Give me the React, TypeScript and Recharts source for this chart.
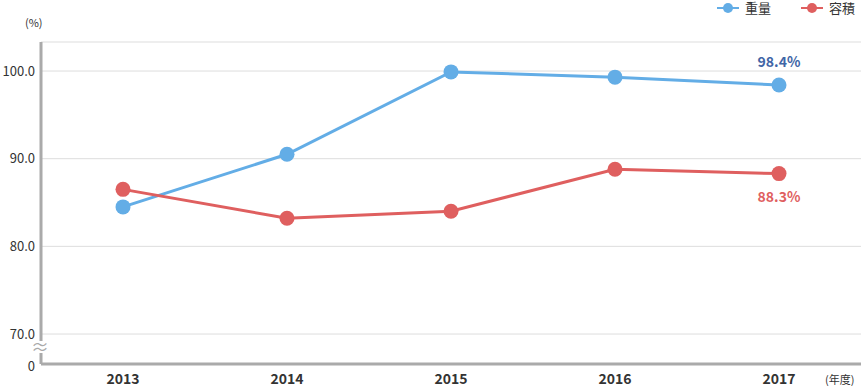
import React from 'react';
import { LineChart, Line, XAxis, YAxis, CartesianGrid, LabelList } from 'recharts';

const years = ['2013', '2014', '2015', '2016', '2017'];
const weight = [84.5, 90.5, 99.9, 99.3, 98.4];
const volume = [86.5, 83.2, 84.0, 88.8, 88.3];
const yTicks = [66.58, 70, 80, 90, 100];

const BLUE = '#63ade6';
const RED = '#df5f5f';
const AXIS = '#aaaaaa';
const FONT = '"Noto Sans CJK JP", "Noto Sans", sans-serif';

const data = years.map((y, i) => ({ year: y, weight: weight[i], volume: volume[i] }));

const YTick = (props: any) => {
  const { x, y, payload, index } = props;
  const isBottom = index === 0;
  return (
    <g>
      {isBottom && (
        <g>
          <rect x={x + 3} y={y - 23} width={8} height={12} fill="#fff" />
          <text x={x + 7} y={y - 10} textAnchor="middle" fontSize={18} fill={AXIS} fontFamily={FONT}>
            ≈
          </text>
        </g>
      )}
      <text x={x + 2} y={y + (isBottom ? 2 : 0)} dy="0.35em" textAnchor="end" fontSize={13} fill="#333" fontFamily={FONT}>
        {isBottom ? '0' : payload.value.toFixed(1)}
      </text>
    </g>
  );
};

const XTick = (props: any) => {
  const { x, y, payload } = props;
  return (
    <text x={x} y={y + 12} textAnchor="middle" fontSize={14} fontWeight="bold" fill="#333" fontFamily={FONT}>
      {payload.value}
    </text>
  );
};

const EndLabel = (color: string, above: boolean) => (props: any) => {
  const { x, y, index, value } = props;
  if (index !== years.length - 1) return null;
  return (
    <text x={x} y={above ? y - 18 : y + 28} textAnchor="middle" fontSize={14} fontWeight="bold" fill={color} fontFamily={FONT}>
      {`${value.toFixed(1)}%`}
    </text>
  );
};

const legendItems = [
  { name: '重量', color: BLUE, left: 717 },
  { name: '容積', color: RED, left: 801 },
];

const LegendBox = () => (
  <>
    {legendItems.map((it) => (
      <div
        key={it.name}
        style={{
          position: 'absolute',
          top: 0,
          left: it.left,
          height: 16,
          display: 'flex',
          alignItems: 'center',
          gap: 6,
          fontFamily: FONT,
          fontSize: 13,
          lineHeight: '16px',
          color: '#333',
        }}
      >
        <svg width={22} height={12}>
          <line x1={0} y1={6} x2={22} y2={6} stroke={it.color} strokeWidth={2} />
          <circle cx={11} cy={6} r={5} fill={it.color} />
        </svg>
        <span>{it.name}</span>
      </div>
    ))}
  </>
);

export default function App() {
  return (
    <div style={{ position: 'relative', width: 861, height: 386, overflow: 'hidden', background: '#fff' }}>
      <style>{'html,body{margin:0;padding:0;overflow:hidden;}'}</style>
      <LineChart width={861} height={386} data={data} margin={{ top: 42, right: 0, left: 0, bottom: 0 }}>
        <CartesianGrid vertical={false} stroke="#dddddd" />
        <XAxis
          dataKey="year"
          height={22}
          padding={{ left: 82, right: 82 }}
          axisLine={{ stroke: AXIS, strokeWidth: 3 }}
          tickLine={false}
          tick={<XTick />}
          interval={0}
        />
        <YAxis
          width={41}
          domain={[66.58, 103.31]}
          ticks={yTicks}
          allowDataOverflow
          axisLine={{ stroke: AXIS, strokeWidth: 3 }}
          tickLine={false}
          tick={<YTick />}
          interval={0}
        />
        <Line
          dataKey="weight"
          stroke={BLUE}
          strokeWidth={3}
          dot={{ r: 7.5, fill: BLUE, stroke: 'none' }}
          activeDot={false}
          isAnimationActive={false}
        >
          <LabelList dataKey="weight" content={EndLabel('#4065a6', true)} />
        </Line>
        <Line
          dataKey="volume"
          stroke={RED}
          strokeWidth={3}
          dot={{ r: 7.5, fill: RED, stroke: 'none' }}
          activeDot={false}
          isAnimationActive={false}
        >
          <LabelList dataKey="volume" content={EndLabel(RED, false)} />
        </Line>
      </LineChart>
      <LegendBox />
      <span style={{ position: 'absolute', left: 25, top: 15, fontSize: 11, lineHeight: '14px', color: '#333', fontFamily: FONT }}>(%)</span>
      <span style={{ position: 'absolute', left: 825, top: 372, fontSize: 11, lineHeight: '14px', color: '#333', fontFamily: FONT }}>(年度)</span>
    </div>
  );
}
